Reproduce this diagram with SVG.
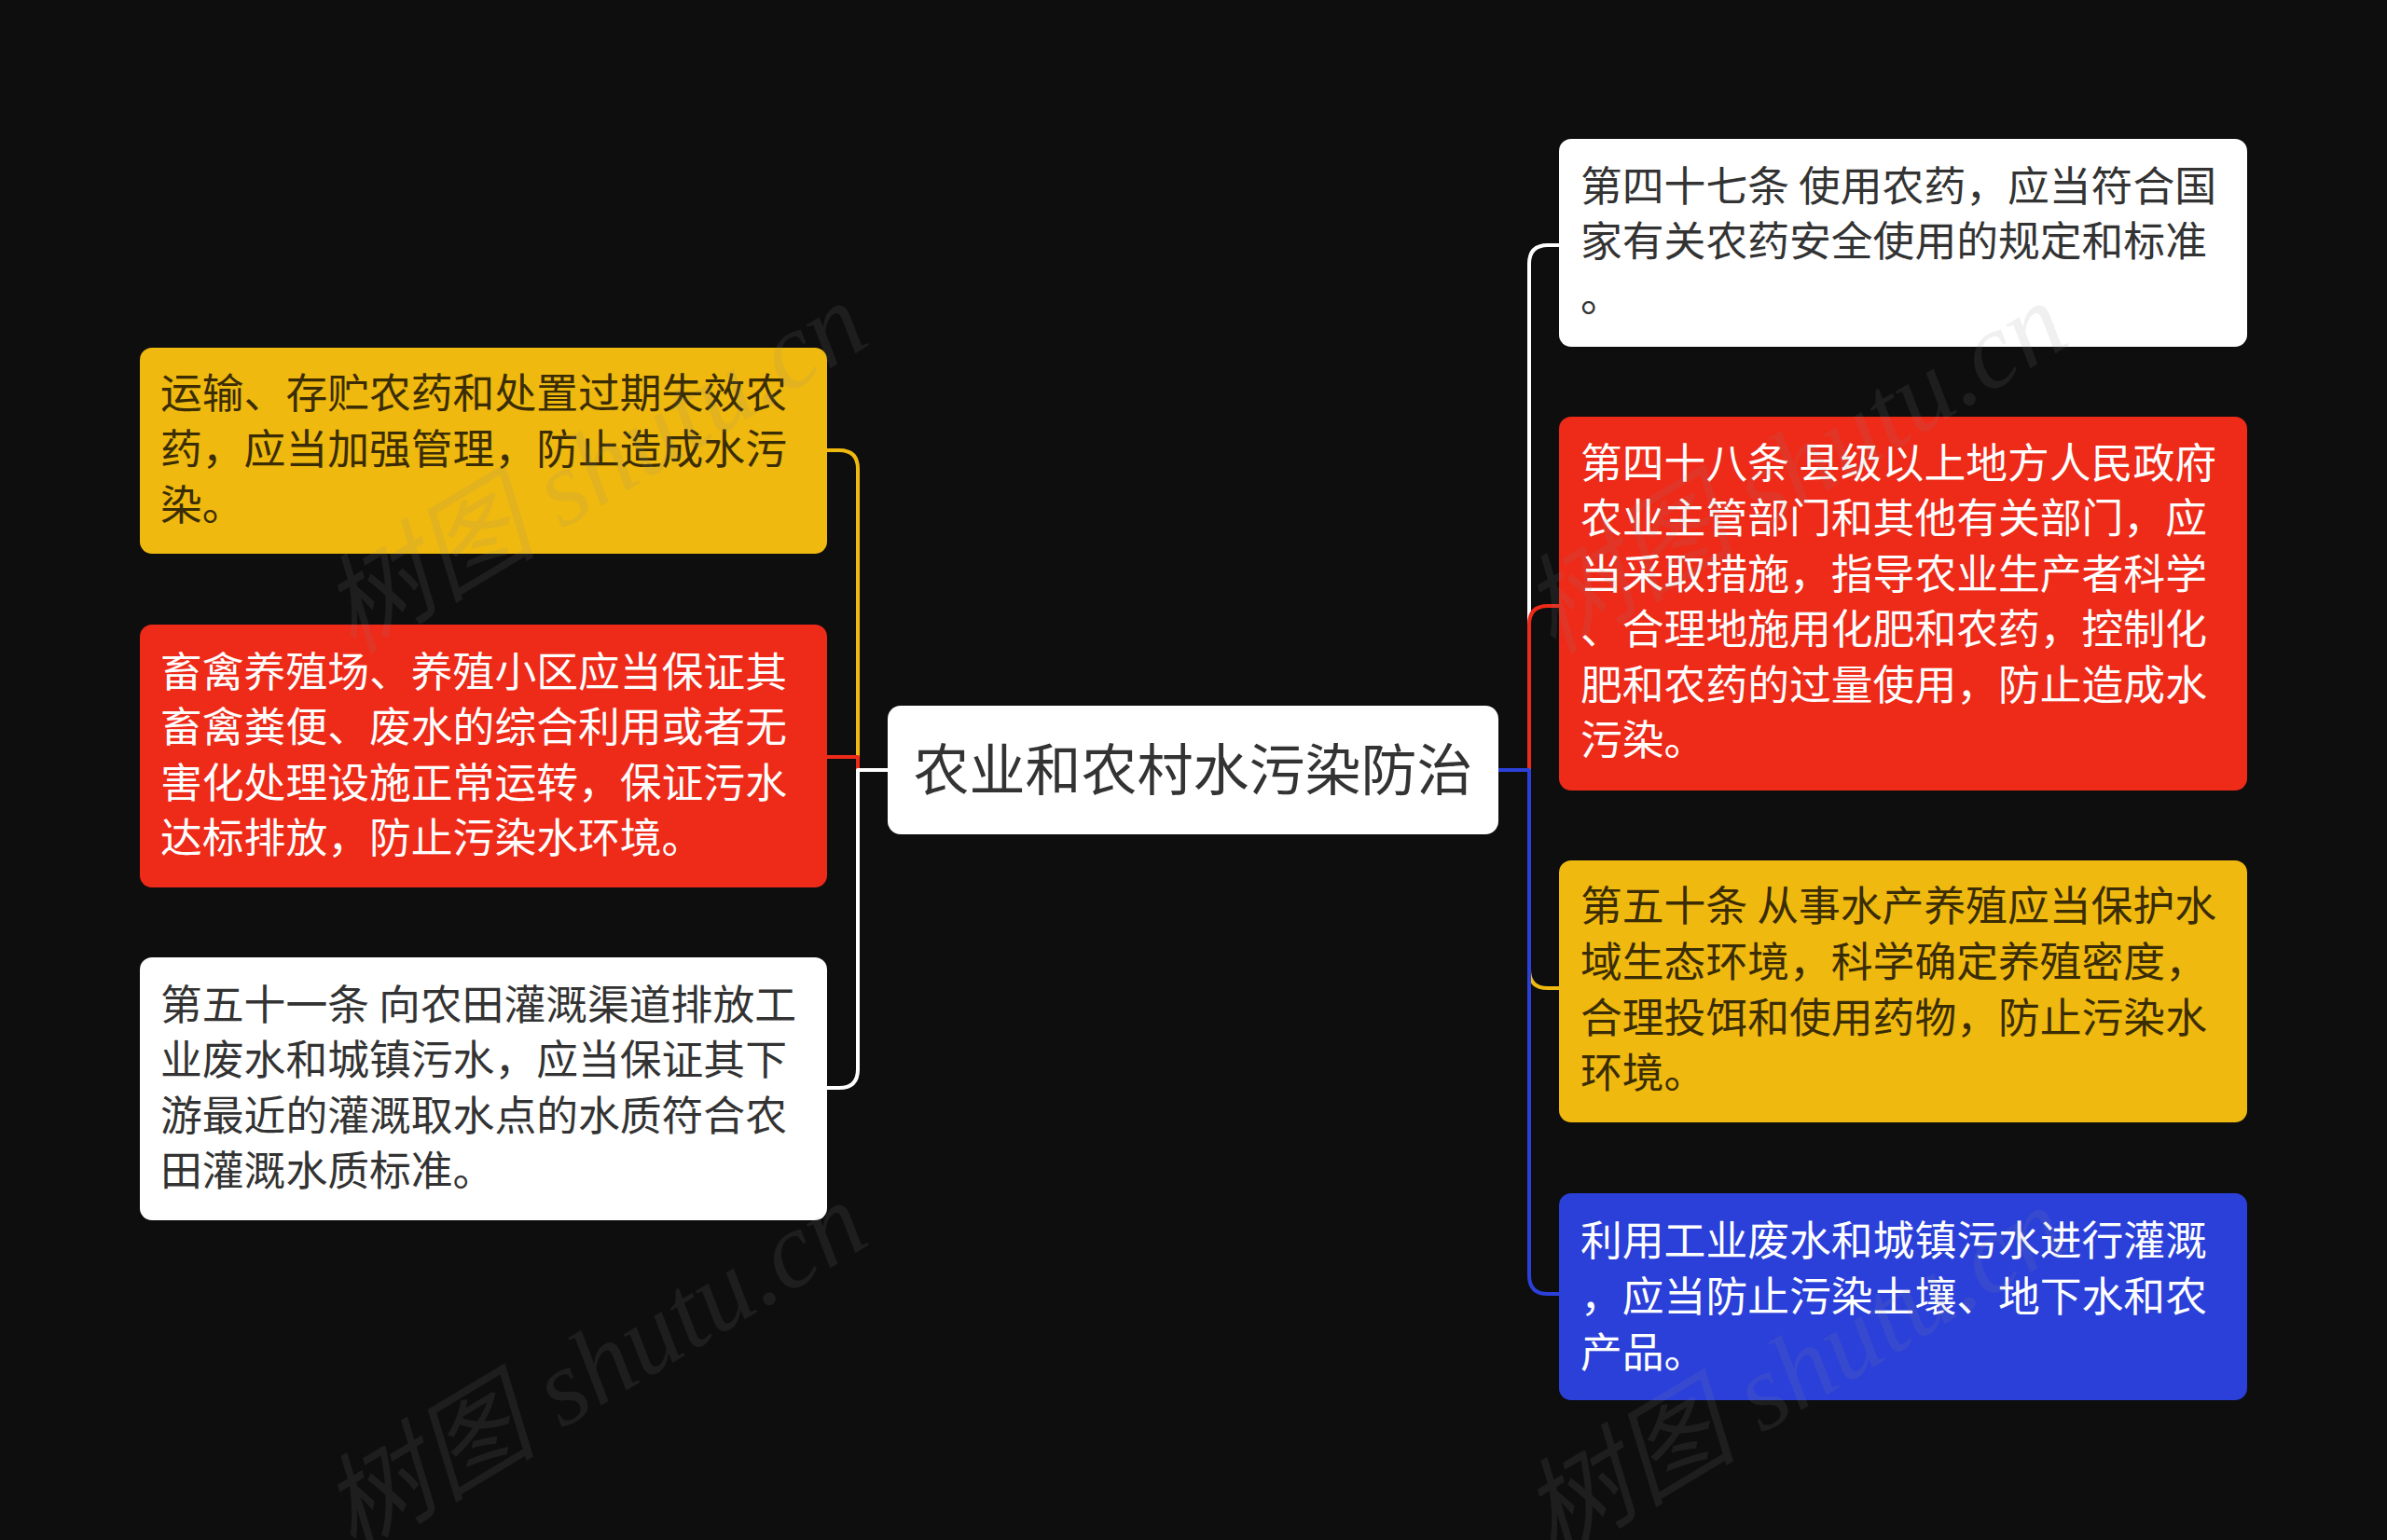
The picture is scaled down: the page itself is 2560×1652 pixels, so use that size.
<svg xmlns="http://www.w3.org/2000/svg" width="2560" height="1652" viewBox="0 0 2560 1652">
<style>
text{font-family:"Noto Sans CJK SC","Noto Sans",sans-serif;}
.t{font-size:44.8px;}
.dk{fill:#333333;}
.yk{fill:#3a2c04;}
.wt{fill:#ffffff;}
.c{fill:none;stroke-width:4;stroke-linejoin:round;}
.wm{font-family:"Liberation Serif","Noto Sans CJK SC",serif;font-style:italic;font-size:116px;fill:#8c8c8c;fill-opacity:0.13;}
</style>
<rect x="0" y="0" width="2560" height="1652" fill="#0e0e0e"/>
<g id="connectors">
<path class="c" stroke="#efb90f" d="M952 826 H920 V503 Q920 483 900 483 H887"/>
<path class="c" stroke="#ee2a19" d="M952 826 H920 V812 H887"/>
<path class="c" stroke="#ffffff" d="M952 826 H920 V1147 Q920 1167 900 1167 H887"/>
<path class="c" stroke="#ffffff" d="M1607 826 H1640 V283 Q1640 263 1660 263 H1672"/>
<path class="c" stroke="#ee2a19" d="M1607 826 H1640 V670 Q1640 650 1660 650 H1672"/>
<path class="c" stroke="#efb90f" d="M1607 826 H1640 V1040 Q1640 1060 1660 1060 H1672"/>
<path class="c" stroke="#2a40d9" d="M1607 826 H1640 V1368 Q1640 1388 1660 1388 H1672"/>
</g>
<g id="root">
<rect x="952" y="757" width="655" height="138" rx="14" fill="#ffffff"/>
<text x="1279.5" y="848" text-anchor="middle" font-size="60" class="dk">农业和农村水污染防治</text>
</g>
<g id="left1">
<rect x="150" y="373" width="737" height="221" rx="13" fill="#efb90f"/>
<text class="t yk" x="172"><tspan x="172" y="438">运输、存贮农药和处置过期失效农</tspan><tspan x="172" y="498">药，应当加强管理，防止造成水污</tspan><tspan x="172" y="558">染。</tspan></text>
</g>
<g id="left2">
<rect x="150" y="670" width="737" height="282" rx="13" fill="#ee2a19"/>
<text class="t wt" x="172"><tspan x="172" y="737">畜禽养殖场、养殖小区应当保证其</tspan><tspan x="172" y="796">畜禽粪便、废水的综合利用或者无</tspan><tspan x="172" y="856">害化处理设施正常运转，保证污水</tspan><tspan x="172" y="915">达标排放，防止污染水环境。</tspan></text>
</g>
<g id="left3">
<rect x="150" y="1027" width="737" height="282" rx="13" fill="#ffffff"/>
<text class="t dk" x="172"><tspan x="172" y="1094">第五十一条 向农田灌溉渠道排放工</tspan><tspan x="172" y="1153">业废水和城镇污水，应当保证其下</tspan><tspan x="172" y="1213">游最近的灌溉取水点的水质符合农</tspan><tspan x="172" y="1272">田灌溉水质标准。</tspan></text>
</g>
<g id="right1">
<rect x="1672" y="149" width="738" height="223" rx="13" fill="#ffffff"/>
<text class="t dk" x="1695"><tspan x="1695" y="216">第四十七条 使用农药，应当符合国</tspan><tspan x="1695" y="275">家有关农药安全使用的规定和标准</tspan><tspan x="1695" y="334">。</tspan></text>
</g>
<g id="right2">
<rect x="1672" y="447" width="738" height="401" rx="13" fill="#ee2a19"/>
<text class="t wt" x="1695"><tspan x="1695" y="513">第四十八条 县级以上地方人民政府</tspan><tspan x="1695" y="572">农业主管部门和其他有关部门，应</tspan><tspan x="1695" y="632">当采取措施，指导农业生产者科学</tspan><tspan x="1695" y="691">、合理地施用化肥和农药，控制化</tspan><tspan x="1695" y="751">肥和农药的过量使用，防止造成水</tspan><tspan x="1695" y="810">污染。</tspan></text>
</g>
<g id="right3">
<rect x="1672" y="923" width="738" height="281" rx="13" fill="#efb90f"/>
<text class="t yk" x="1695"><tspan x="1695" y="988">第五十条 从事水产养殖应当保护水</tspan><tspan x="1695" y="1048">域生态环境，科学确定养殖密度，</tspan><tspan x="1695" y="1108">合理投饵和使用药物，防止污染水</tspan><tspan x="1695" y="1167">环境。</tspan></text>
</g>
<g id="right4">
<rect x="1672" y="1280" width="738" height="222" rx="13" fill="#2a40d9"/>
<text class="t wt" x="1695"><tspan x="1695" y="1347">利用工业废水和城镇污水进行灌溉</tspan><tspan x="1695" y="1407">，应当防止污染土壤、地下水和农</tspan><tspan x="1695" y="1467">产品。</tspan></text>
</g>
<g id="watermarks">
<text class="wm" x="640" y="540" text-anchor="middle" transform="rotate(-31 640 506)">树图 shutu.cn</text>
<text class="wm" x="640" y="1505" text-anchor="middle" transform="rotate(-31 640 1471)">树图 shutu.cn</text>
<text class="wm" x="1927" y="540" text-anchor="middle" transform="rotate(-31 1927 506)">树图 shutu.cn</text>
<text class="wm" x="1927" y="1510" text-anchor="middle" transform="rotate(-31 1927 1476)">树图 shutu.cn</text>
</g>
</svg>
